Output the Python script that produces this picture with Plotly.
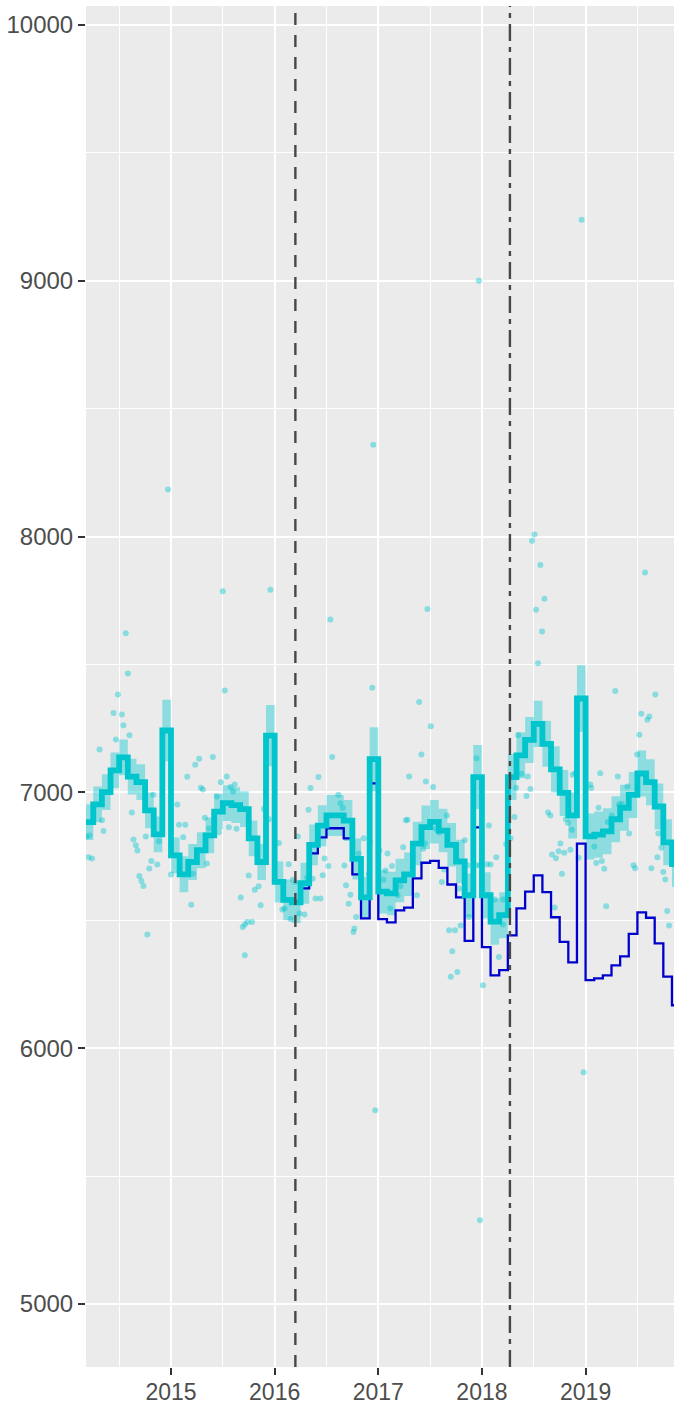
import plotly.graph_objects as go

# ---------------- data ----------------
# monthly fitted values (Mar 2014 .. Dec 2019)
fit_start_year = 2014
fit_start_month = 3
fit_values = [
    6884, 6953, 7001, 7086, 7137, 7062, 7040, 6930, 6836, 7242,             # 2014 Mar-Dec
    6754, 6680, 6728, 6774, 6832, 6925, 6958, 6950, 6935, 6820, 6728, 7222, # 2015
    6650, 6580, 6570, 6645, 6795, 6870, 6910, 6910, 6890, 6740, 6590, 7130, # 2016
    6612, 6605, 6656, 6680, 6800, 6864, 6885, 6851, 6795, 6730, 6598, 7060, # 2017
    6598, 6495, 6520, 7060, 7145, 7205, 7268, 7190, 7090, 6998, 6910, 7367, # 2018
    6828, 6835, 6848, 6895, 6940, 6990, 7074, 7040, 6945, 6805, 6720, 6700, # 2019
]
# half width of the confidence band for each month
ci_halfwidth = [
    70, 70, 70, 70, 70, 70, 70, 70, 70, 120,
    70, 70, 70, 70, 70, 70, 70, 70, 70, 70, 70, 120,
    80, 80, 80, 80, 80, 80, 80, 80, 80, 80, 80, 125,
    85, 85, 85, 85, 85, 85, 85, 85, 85, 85, 85, 125,
    90, 90, 90, 90, 90, 90, 90, 90, 90, 90, 90, 130,
    90, 90, 90, 90, 90, 90, 90, 90, 90, 90, 90, 90,
]
# counterfactual (Jan 2016 .. Dec 2019)
cf_start_year = 2016
cf_start_month = 1
cf_values = [
    6650, 6580, 6565, 6625, 6762, 6824, 6860, 6860, 6820, 6680, 6508, 7035,
    6505, 6492, 6539, 6550, 6664, 6725, 6732, 6705, 6640, 6590, 6420, 6863,
    6395, 6285, 6305, 6441, 6547, 6612, 6676, 6610, 6512, 6416, 6336, 6800,
    6266, 6273, 6285, 6324, 6359, 6447, 6531, 6510, 6410, 6280, 6168, 6150,
]

# observed points (decimal year, value)
obs_time = [
    2014.183, 2014.204, 2014.238, 2014.214, 2014.311, 2014.334, 2014.349, 2014.445, 2014.468, 2014.488,
    2014.526, 2014.541, 2014.564, 2014.584, 2014.599, 2014.622, 2014.638, 2014.661, 2014.676, 2014.695,
    2014.714, 2014.734, 2014.757, 2014.772, 2014.791, 2014.811, 2014.830, 2014.868, 2014.885, 2014.971,
    2015.000, 2015.061, 2015.077, 2015.118, 2015.138, 2015.157, 2015.195, 2015.214, 2015.234, 2015.272,
    2015.288, 2015.308, 2015.327, 2015.346, 2015.365, 2015.404, 2015.442, 2015.462, 2015.481, 2015.500,
    2015.519, 2015.538, 2015.558, 2015.577, 2015.599, 2015.615, 2015.632, 2015.673, 2015.692, 2015.712,
    2015.737, 2015.712, 2015.750, 2015.782, 2015.808, 2015.846, 2015.865, 2015.897, 2015.945, 2015.959,
    2016.041, 2016.074, 2016.096, 2016.135, 2016.154, 2016.176, 2016.224, 2016.087, 2016.199, 2016.314,
    2016.394, 2016.240, 2016.288, 2016.327, 2016.346, 2016.368, 2016.423, 2016.442, 2016.464, 2016.481,
    2016.519, 2016.538, 2016.555, 2016.615, 2016.635, 2016.657, 2016.673, 2016.689, 2016.714, 2016.731,
    2016.760, 2016.769, 2016.786, 2016.811, 2016.859, 2016.907, 2016.920, 2016.942, 2016.952, 2016.971,
    2017.010, 2017.051, 2017.070, 2017.089, 2017.115, 2017.132, 2017.186, 2017.212, 2017.240, 2017.266,
    2017.282, 2017.298, 2017.372, 2017.394, 2017.416, 2017.433, 2017.449, 2017.459, 2017.474, 2017.507,
    2017.529, 2017.555, 2017.587, 2017.613, 2017.635, 2017.661, 2017.683, 2017.714, 2017.740, 2017.763,
    2017.699, 2017.779, 2017.795, 2017.834, 2017.859, 2017.875, 2017.945, 2017.949, 2017.971, 2017.981,
    2017.981, 2018.010, 2018.051, 2018.067, 2018.084, 2018.125, 2018.138, 2018.163, 2018.205, 2018.202,
    2018.234, 2018.276, 2018.314, 2018.330, 2018.349, 2018.382, 2018.430, 2018.442, 2018.468, 2018.484,
    2018.507, 2018.522, 2018.541, 2018.564, 2018.580, 2018.603, 2018.638, 2018.661, 2018.676, 2018.702,
    2018.714, 2018.740, 2018.757, 2018.772, 2018.795, 2018.810, 2018.830, 2018.853, 2018.868, 2018.875,
    2018.901, 2018.933, 2018.962, 2018.981, 2019.045, 2019.055, 2019.084, 2019.103, 2019.125, 2019.141,
    2019.157, 2019.180, 2019.199, 2019.214, 2019.253, 2019.286, 2019.311, 2019.324, 2019.349, 2019.404,
    2019.420, 2019.462, 2019.478, 2019.497, 2019.519, 2019.538, 2019.574, 2019.596, 2019.615, 2019.635,
    2019.673, 2019.692, 2019.702, 2019.731, 2019.750, 2019.769, 2019.788, 2019.805,
]
obs_value = [
    6828, 6747, 6742, 6832, 7168, 6891, 6849, 7310, 7207, 7383,
    7305, 7263, 7622, 7465, 7223, 6921, 6816, 6793, 6773, 6673,
    6654, 6634, 6828, 6445, 6703, 6732, 6991, 6718, 6809, 8184,
    6679, 6953, 6874, 6825, 6874, 7061, 6561, 6682, 7108, 7132,
    7018, 7011, 6901, 6722, 6859, 7138, 6984, 6844, 7040, 7786,
    7398, 7062, 6864, 7021, 7004, 7031, 6858, 6589, 6474, 6484,
    6493, 6363, 6675, 6493, 6620, 6633, 6559, 6935, 6895, 7792,
    6802, 6542, 6546, 6719, 6505, 6659, 6828, 6650, 6650, 6667,
    6585, 6527, 6523, 6932, 7017, 6663, 7060, 6585, 6676, 6742,
    6712, 7676, 7138, 6991, 6958, 6939, 6714, 6637, 6565, 6600,
    6454, 6468, 6513, 6761, 6821, 6682, 6806, 7409, 8359, 5758,
    6773, 6659, 6695, 6761, 6546, 6712, 6598, 6633, 6786, 6891,
    6893, 7062, 6598, 7353, 7148, 6780, 6800, 7043, 7717, 7259,
    7021, 6858, 6843, 6650, 6699, 6910, 6461, 6379, 6461, 6298,
    6279, 6624, 6480, 6813, 6715, 6513, 6715, 7134, 9000, 6715,
    5328, 6246, 6719, 6871, 6718, 6581, 6747, 6357, 6581, 6484,
    6797, 6821, 6904, 7018, 7223, 7073, 6986, 7062, 7013, 7984,
    8008, 7714, 7505, 7889, 7629, 7757, 6921, 6910, 6757, 6550,
    6743, 6770, 6800, 6682, 6764, 6895, 6880, 6776, 6854, 7069,
    7075, 6745, 9238, 5906, 7031, 7017, 6789, 6724, 6940, 7075,
    6732, 6702, 6555, 6884, 6910, 7396, 7062, 6953, 6956, 7023,
    6839, 6715, 6704, 7148, 7225, 7307, 7860, 7284, 7297, 6704,
    7383, 6747, 6839, 6784, 6689, 6660, 6536, 6480,
]

# intervention markers (decimal year)
intervention_1 = 2016.20
intervention_2 = 2018.27

x_tick_years = [2015, 2016, 2017, 2018, 2019]
y_tick_values = [5000, 6000, 7000, 8000, 9000, 10000]

# ---------------- build ----------------
def month_axis(start_year, start_month, n):
    return [start_year + (start_month - 1 + i) / 12.0 for i in range(n)]

fit_x = month_axis(fit_start_year, fit_start_month, len(fit_values))
cf_x = month_axis(cf_start_year, cf_start_month, len(cf_values))
lower = [v - h for v, h in zip(fit_values, ci_halfwidth)]
upper = [v + h for v, h in zip(fit_values, ci_halfwidth)]

CYAN = "#00C5CD"
fig = go.Figure()

fig.add_trace(go.Scatter(
    x=obs_time, y=obs_value, mode="markers",
    marker=dict(color="rgba(0,197,205,0.42)", size=6, line=dict(width=0)),
    showlegend=False, hoverinfo="skip"))

fig.add_trace(go.Scatter(
    x=fit_x, y=lower, mode="lines", line=dict(width=0, shape="hv"),
    showlegend=False, hoverinfo="skip"))
fig.add_trace(go.Scatter(
    x=fit_x, y=upper, mode="lines", line=dict(width=0, shape="hv"),
    fill="tonexty", fillcolor="rgba(0,197,205,0.40)",
    showlegend=False, hoverinfo="skip"))

fig.add_trace(go.Scatter(
    x=cf_x, y=cf_values, mode="lines",
    line=dict(color="#0000CD", width=2.3, shape="hv"),
    showlegend=False))

fig.add_trace(go.Scatter(
    x=fit_x, y=fit_values, mode="lines",
    line=dict(color=CYAN, width=5.8, shape="hv"),
    showlegend=False))

fig.add_vline(x=intervention_1, line=dict(color="#474747", width=2.4, dash="12px,10px"))
fig.add_vline(x=intervention_2, line=dict(color="#474747", width=2.4, dash="17px,6px,5px,6px"))

minor_x = [2014.5 + i for i in range(6)]
minor_y = [5500 + 1000 * i for i in range(5)]

fig.update_layout(
    width=674, height=1407,
    margin=dict(l=86, r=0, t=6, b=40, autoexpand=False),
    paper_bgcolor="white", plot_bgcolor="#EBEBEB",
    font=dict(family="Liberation Sans, Arial, sans-serif", size=24, color="#4D4D4D"),
    showlegend=False,
)
fig.update_xaxes(
    range=[2014.18, 2019.853], tickvals=x_tick_years,
    ticktext=[str(v) for v in x_tick_years],
    ticks="outside", ticklen=7, tickwidth=2, tickcolor="#333333",
    ticklabelstandoff=-3,
    showgrid=True, gridcolor="white", gridwidth=2.2,
    zeroline=False, showline=False,
    minor=dict(tickvals=minor_x, showgrid=True, gridcolor="white", gridwidth=1.1, ticks=""),
    tickfont=dict(size=23, color="#4D4D4D"),
)
fig.update_yaxes(
    range=[4754, 10074], tickvals=y_tick_values,
    ticktext=[str(v) for v in y_tick_values],
    ticks="outside", ticklen=7, tickwidth=2, tickcolor="#333333",
    showgrid=True, gridcolor="white", gridwidth=2.2,
    zeroline=False, showline=False,
    minor=dict(tickvals=minor_y, showgrid=True, gridcolor="white", gridwidth=1.1, ticks=""),
    tickfont=dict(size=24, color="#4D4D4D"),
)

fig.write_html(
    "out.html",
    config={"displayModeBar": False},
    post_script="document.body.style.margin='0';document.body.style.padding='0';document.body.style.overflow='hidden';",
)
